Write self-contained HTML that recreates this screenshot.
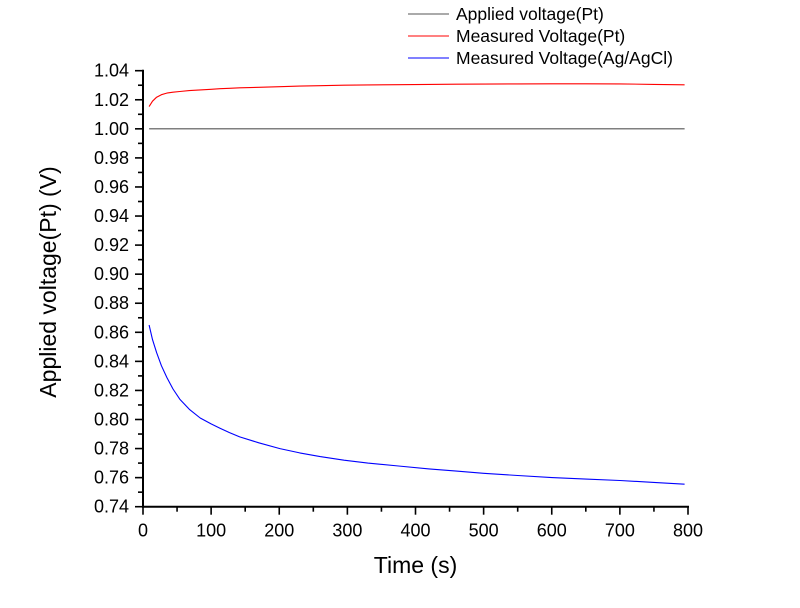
<!DOCTYPE html>
<html><head><meta charset="utf-8"><style>
body{margin:0;background:#fff;}
svg{display:block;font-family:"Liberation Sans",Arial,sans-serif;}
</style></head><body>
<svg id="chart" width="800" height="608"></svg>
<script>
const xTicks=[0,100,200,300,400,500,600,700,800];
const yTicks=[0.74,0.76,0.78,0.80,0.82,0.84,0.86,0.88,0.90,0.92,0.94,0.96,0.98,1.00,1.02,1.04];
const tVals=[9,14,20,27,35,44,54,68,84,100,113,127,142,170,201,230,260,295,330,375,420,460,500,550,600,650,700,750,795];
const appliedVals=[1,1,1,1,1,1,1,1,1,1,1,1,1,1,1,1,1,1,1,1,1,1,1,1,1,1,1,1,1];
const redVals=[1.0153,1.019,1.0218,1.0235,1.0246,1.0252,1.0257,1.0263,1.0268,1.0272,1.0276,1.0279,1.0282,1.0286,1.029,1.0294,1.0297,1.03,1.0302,1.0304,1.0306,1.0307,1.0308,1.0309,1.031,1.031,1.0309,1.0306,1.0303];
const blueVals=[0.865,0.855,0.846,0.837,0.829,0.821,0.814,0.807,0.801,0.797,0.794,0.791,0.788,0.784,0.780,0.777,0.7745,0.772,0.770,0.768,0.766,0.7645,0.763,0.7615,0.760,0.759,0.758,0.7567,0.7555];
const NS="http://www.w3.org/2000/svg";
const svg=document.getElementById('chart');
const X0=143,X1=688,Y0=506.7,Y1=70.7;
const xs=v=>X0+(v-0)/800*(X1-X0);
const ys=v=>Y0-(v-0.74)/0.30*(Y0-Y1);
function mk(tag,attrs,parent){const e=document.createElementNS(NS,tag);for(const k in attrs)e.setAttribute(k,attrs[k]);(parent||svg).appendChild(e);return e;}
let ax=mk('line',{x1:X0-1,y1:Y0,x2:X1+1,y2:Y0,stroke:'#000','stroke-width':2});


let ay=mk('line',{x1:X0,y1:Y0+1,x2:X0,y2:Y1-1,stroke:'#000','stroke-width':2});


for(let i=0;i<=16;i++){const v=i*50;const maj=i%2==0;
 mk('line',{x1:xs(v),y1:Y0,x2:xs(v),y2:Y0+(maj?8:5),stroke:'#000','stroke-width':1.6});}
xTicks.forEach(v=>{const t=mk('text',{x:xs(v),y:Y0+30,'text-anchor':'middle','font-size':18});t.textContent=v;
 
 });
for(let i=0;i<=30;i++){const v=0.74+i*0.01;const maj=i%2==0;
 mk('line',{x1:X0,y1:ys(v),x2:X0-(maj?8:5),y2:ys(v),stroke:'#000','stroke-width':1.6});}
yTicks.forEach(v=>{const t=mk('text',{x:X0-14,y:ys(v)+6,'text-anchor':'end','font-size':18});t.textContent=v.toFixed(2);
 
 });
let xt=mk('text',{x:(X0+X1)/2,y:573,'text-anchor':'middle','font-size':23});xt.textContent='Time (s)';


let yt=mk('text',{x:0,y:0,'text-anchor':'middle','font-size':23,transform:`translate(56,282) rotate(-90)`});yt.textContent='Applied voltage(Pt) (V)';


function series(vals,color,name){
 const d=tVals.map((t,i)=>(i?'L':'M')+xs(t).toFixed(1)+','+ys(vals[i]).toFixed(1)).join(' ');
 const p=mk('path',{d:d,fill:'none',stroke:color,'stroke-width':1.1,'stroke-linejoin':'round'});
 
 
}
series(appliedVals,'#555','applied-voltage-line');
series(redVals,'#f00','measured-pt-line');
series(blueVals,'#00f','measured-agagcl-line');
const legNames=['Applied voltage(Pt)','Measured Voltage(Pt)','Measured Voltage(Ag/AgCl)'];
const legColors=['#555','#f00','#00f'];
legNames.forEach((n,i)=>{const y=14+i*22;
 const g=mk('g',{});
 
 
 mk('line',{x1:408,y1:y,x2:449,y2:y,stroke:legColors[i],'stroke-width':1},g);
 const t=mk('text',{x:456,y:y+6,'font-size':17.5},g);t.textContent=n;});
</script>
</body></html>
